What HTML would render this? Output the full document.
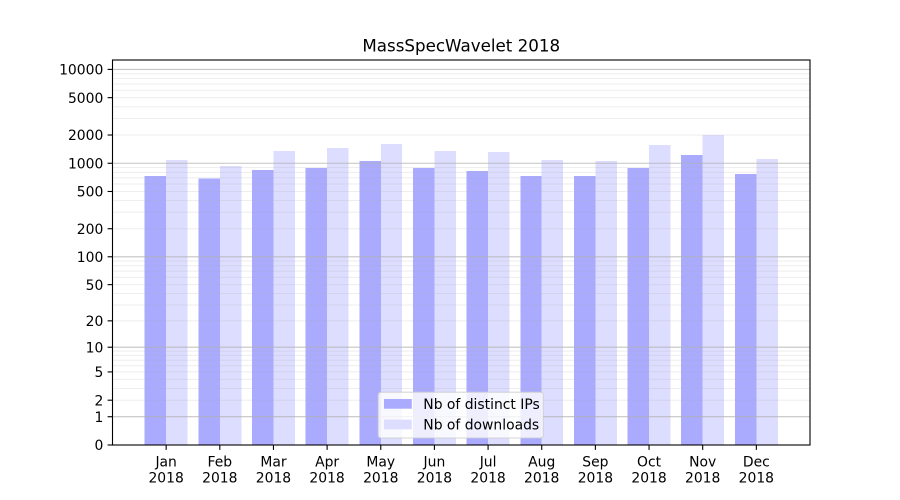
<!DOCTYPE html>
<html>
<head>
<meta charset="utf-8">
<style>
html,body{margin:0;padding:0;background:#fff;}
svg{display:block;}
text{font-family:"DejaVu Sans","Liberation Sans",sans-serif;fill:#000;}
</style>
</head>
<body>
<svg width="900" height="500" viewBox="0 0 900 500" xmlns="http://www.w3.org/2000/svg">
<rect x="0" y="0" width="900" height="500" fill="#fff"/>
<!-- bars -->
<g shape-rendering="crispEdges">
<rect x="144.69" y="176" width="21.46" height="269" fill="#aaaaff"/>
<rect x="166.15" y="160" width="21.46" height="285" fill="#ddddff"/>
<rect x="198.35" y="178.7" width="21.46" height="266.3" fill="#aaaaff"/>
<rect x="219.81" y="166" width="21.46" height="279" fill="#ddddff"/>
<rect x="252.00" y="170" width="21.46" height="275" fill="#aaaaff"/>
<rect x="273.46" y="151" width="21.46" height="294" fill="#ddddff"/>
<rect x="305.65" y="168" width="21.46" height="277" fill="#aaaaff"/>
<rect x="327.11" y="148" width="21.46" height="297" fill="#ddddff"/>
<rect x="359.31" y="161" width="21.46" height="284" fill="#aaaaff"/>
<rect x="380.77" y="144" width="21.46" height="301" fill="#ddddff"/>
<rect x="412.96" y="168" width="21.46" height="277" fill="#aaaaff"/>
<rect x="434.42" y="151" width="21.46" height="294" fill="#ddddff"/>
<rect x="466.62" y="171" width="21.46" height="274" fill="#aaaaff"/>
<rect x="488.08" y="152" width="21.46" height="293" fill="#ddddff"/>
<rect x="520.27" y="176" width="21.46" height="269" fill="#aaaaff"/>
<rect x="541.73" y="160" width="21.46" height="285" fill="#ddddff"/>
<rect x="573.92" y="176" width="21.46" height="269" fill="#aaaaff"/>
<rect x="595.38" y="161" width="21.46" height="284" fill="#ddddff"/>
<rect x="627.58" y="168" width="21.46" height="277" fill="#aaaaff"/>
<rect x="649.04" y="145" width="21.46" height="300" fill="#ddddff"/>
<rect x="681.23" y="155" width="21.46" height="290" fill="#aaaaff"/>
<rect x="702.69" y="135" width="21.46" height="310" fill="#ddddff"/>
<rect x="734.89" y="174" width="21.46" height="271" fill="#aaaaff"/>
<rect x="756.35" y="159" width="21.46" height="286" fill="#ddddff"/>
</g>
<!-- minor grid -->
<g stroke="#b0b0b0" stroke-opacity="0.22" stroke-width="1">
<line x1="112.5" x2="810" y1="400.2" y2="400.2"/>
<line x1="112.5" x2="810" y1="388.47" y2="388.47"/>
<line x1="112.5" x2="810" y1="379.37" y2="379.37"/>
<line x1="112.5" x2="810" y1="371.93" y2="371.93"/>
<line x1="112.5" x2="810" y1="365.65" y2="365.65"/>
<line x1="112.5" x2="810" y1="360.2" y2="360.2"/>
<line x1="112.5" x2="810" y1="355.4" y2="355.4"/>
<line x1="112.5" x2="810" y1="351.1" y2="351.1"/>
<line x1="112.5" x2="810" y1="320.84" y2="320.84"/>
<line x1="112.5" x2="810" y1="304.96" y2="304.96"/>
<line x1="112.5" x2="810" y1="293.56" y2="293.56"/>
<line x1="112.5" x2="810" y1="284.66" y2="284.66"/>
<line x1="112.5" x2="810" y1="277.36" y2="277.36"/>
<line x1="112.5" x2="810" y1="271.17" y2="271.17"/>
<line x1="112.5" x2="810" y1="265.79" y2="265.79"/>
<line x1="112.5" x2="810" y1="261.05" y2="261.05"/>
<line x1="112.5" x2="810" y1="228.73" y2="228.73"/>
<line x1="112.5" x2="810" y1="212.26" y2="212.26"/>
<line x1="112.5" x2="810" y1="200.56" y2="200.56"/>
<line x1="112.5" x2="810" y1="191.48" y2="191.48"/>
<line x1="112.5" x2="810" y1="184.06" y2="184.06"/>
<line x1="112.5" x2="810" y1="177.78" y2="177.78"/>
<line x1="112.5" x2="810" y1="172.35" y2="172.35"/>
<line x1="112.5" x2="810" y1="167.55" y2="167.55"/>
<line x1="112.5" x2="810" y1="135.01" y2="135.01"/>
<line x1="112.5" x2="810" y1="118.48" y2="118.48"/>
<line x1="112.5" x2="810" y1="106.76" y2="106.76"/>
<line x1="112.5" x2="810" y1="97.66" y2="97.66"/>
<line x1="112.5" x2="810" y1="90.23" y2="90.23"/>
<line x1="112.5" x2="810" y1="83.94" y2="83.94"/>
<line x1="112.5" x2="810" y1="78.5" y2="78.5"/>
<line x1="112.5" x2="810" y1="73.7" y2="73.7"/>
</g>
<!-- major grid -->
<g stroke="#b0b0b0" stroke-opacity="0.75" stroke-width="1.1">
<line x1="112.5" x2="810" y1="416.73" y2="416.73"/>
<line x1="112.5" x2="810" y1="347.21" y2="347.21"/>
<line x1="112.5" x2="810" y1="256.79" y2="256.79"/>
<line x1="112.5" x2="810" y1="163.26" y2="163.26"/>
<line x1="112.5" x2="810" y1="69.4" y2="69.4"/>
</g>
<!-- spines -->
<rect x="112.5" y="60" width="697.5" height="385" fill="none" stroke="#000" stroke-width="1.1"/>
<!-- y ticks -->
<g stroke="#000" stroke-width="1.1">
<line x1="107.6" x2="112.5" y1="445" y2="445"/>
<line x1="107.6" x2="112.5" y1="416.73" y2="416.73"/>
<line x1="107.6" x2="112.5" y1="400.2" y2="400.2"/>
<line x1="107.6" x2="112.5" y1="371.93" y2="371.93"/>
<line x1="107.6" x2="112.5" y1="347.21" y2="347.21"/>
<line x1="107.6" x2="112.5" y1="320.84" y2="320.84"/>
<line x1="107.6" x2="112.5" y1="284.66" y2="284.66"/>
<line x1="107.6" x2="112.5" y1="256.79" y2="256.79"/>
<line x1="107.6" x2="112.5" y1="228.73" y2="228.73"/>
<line x1="107.6" x2="112.5" y1="191.48" y2="191.48"/>
<line x1="107.6" x2="112.5" y1="163.26" y2="163.26"/>
<line x1="107.6" x2="112.5" y1="135.01" y2="135.01"/>
<line x1="107.6" x2="112.5" y1="97.66" y2="97.66"/>
<line x1="107.6" x2="112.5" y1="69.4" y2="69.4"/>
</g>
<g font-size="13.9" text-anchor="end">
<text x="103.3" y="450.1">0</text>
<text x="103.3" y="421.8">1</text>
<text x="103.3" y="405.3">2</text>
<text x="103.3" y="377.0">5</text>
<text x="103.3" y="352.3">10</text>
<text x="103.3" y="325.9">20</text>
<text x="103.3" y="289.8">50</text>
<text x="103.3" y="261.9">100</text>
<text x="103.3" y="233.8">200</text>
<text x="103.3" y="196.6">500</text>
<text x="103.3" y="168.4">1000</text>
<text x="103.3" y="140.1">2000</text>
<text x="103.3" y="102.8">5000</text>
<text x="103.3" y="74.5">10000</text>
</g>
<!-- x ticks -->
<g stroke="#000" stroke-width="1.1">
<line x1="166.15" x2="166.15" y1="445" y2="449.9"/>
<line x1="219.81" x2="219.81" y1="445" y2="449.9"/>
<line x1="273.46" x2="273.46" y1="445" y2="449.9"/>
<line x1="327.11" x2="327.11" y1="445" y2="449.9"/>
<line x1="380.77" x2="380.77" y1="445" y2="449.9"/>
<line x1="434.42" x2="434.42" y1="445" y2="449.9"/>
<line x1="488.08" x2="488.08" y1="445" y2="449.9"/>
<line x1="541.73" x2="541.73" y1="445" y2="449.9"/>
<line x1="595.38" x2="595.38" y1="445" y2="449.9"/>
<line x1="649.04" x2="649.04" y1="445" y2="449.9"/>
<line x1="702.69" x2="702.69" y1="445" y2="449.9"/>
<line x1="756.35" x2="756.35" y1="445" y2="449.9"/>
</g>
<g font-size="13.9" text-anchor="middle">
<text x="166.15" y="466.7">Jan</text><text x="166.15" y="482.3">2018</text>
<text x="219.81" y="466.7">Feb</text><text x="219.81" y="482.3">2018</text>
<text x="273.46" y="466.7">Mar</text><text x="273.46" y="482.3">2018</text>
<text x="327.11" y="466.7">Apr</text><text x="327.11" y="482.3">2018</text>
<text x="380.77" y="466.7">May</text><text x="380.77" y="482.3">2018</text>
<text x="434.42" y="466.7">Jun</text><text x="434.42" y="482.3">2018</text>
<text x="488.08" y="466.7">Jul</text><text x="488.08" y="482.3">2018</text>
<text x="541.73" y="466.7">Aug</text><text x="541.73" y="482.3">2018</text>
<text x="595.38" y="466.7">Sep</text><text x="595.38" y="482.3">2018</text>
<text x="649.04" y="466.7">Oct</text><text x="649.04" y="482.3">2018</text>
<text x="702.69" y="466.7">Nov</text><text x="702.69" y="482.3">2018</text>
<text x="756.35" y="466.7">Dec</text><text x="756.35" y="482.3">2018</text>
</g>
<!-- title -->
<text x="461.25" y="51.3" font-size="16.7" text-anchor="middle">MassSpecWavelet 2018</text>
<!-- legend -->
<rect x="378.2" y="392.2" width="165" height="45.8" rx="2.8" ry="2.8" fill="#fff" fill-opacity="0.8" stroke="#cccccc" stroke-opacity="0.8" stroke-width="1.1"/>
<rect x="384" y="399" width="27.8" height="9.7" fill="#aaaaff"/>
<rect x="384" y="419.6" width="27.8" height="9.7" fill="#ddddff"/>
<text x="423.3" y="409" font-size="13.9">Nb of distinct IPs</text>
<text x="423.3" y="429.6" font-size="13.9">Nb of downloads</text>
</svg>
</body>
</html>
